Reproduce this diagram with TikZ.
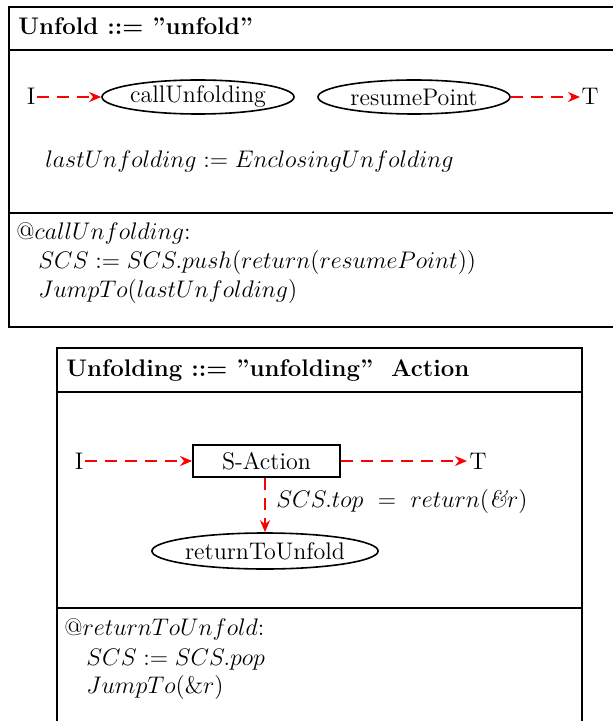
\documentclass[tikz,border=0pt,12pt]{standalone}
\usetikzlibrary{arrows.meta,shapes.geometric}
\tikzset{
  frame/.style={line width=1pt},
  flow/.style={red, line width=1pt, dash pattern=on 6pt off 4pt,
    -{Stealth[length=6pt,width=5pt]}},
  state/.style={ellipse, draw, line width=0.8pt, inner sep=0pt},
  actbox/.style={rectangle, draw, line width=0.9pt, inner sep=0pt},
  txt/.style={anchor=base west, inner sep=0pt},
  term/.style={inner sep=0pt, anchor=base},
}
\begin{document}
\begin{tikzpicture}[x=0.5pt,y=-0.5pt]
\useasboundingbox (0,0) rectangle (613,721);
\clip (0,0) rectangle (613,721);

% ---- Unfold ----
\draw[frame] (630,7) -| (9,327) -- (630,327);
\draw[frame] (9,50) -- (630,50);
\draw[frame] (9,213) -- (630,213);
\node[txt] (unfoldTitle) at (18,35) {\bfseries Unfold ::= ''unfold''};

\node[term] (i1) at (31,105) {I};
\node[state, minimum width=91pt, minimum height=17pt] (callU) at (198,97) {callUnfolding};
\node[state, minimum width=96pt, minimum height=17pt] (resume) at (414,97) {resumePoint};
\node[term] (t1) at (590,105) {T};
\coordinate (i1e) at (37,97);
\coordinate (t1w) at (580,97);
\draw[flow] (i1e) -- (callU.west);
\draw[flow] (resume.east) -- (t1w);

\node[txt] (lastU) at (45,168) {$lastUnfolding := EnclosingUnfolding$};

\node[txt] (atCall) at (16,240) {$@callUnfolding{:}$};
\node[txt] (push) at (38,269) {$SCS := SCS.push(return(resumePoint))$};
\node[txt] (jump1) at (38,298) {$JumpTo(lastUnfolding)$};

% ---- Unfolding ----
\draw[frame] (57,740) |- (582,348) -- (582,740);
\draw[frame] (57,392) -- (582,392);
\draw[frame] (57,608) -- (582,608);
\node[txt] (unfoldingTitle) at (66,376) {\bfseries Unfolding ::= ''unfolding''~\ Action};

\node[term] (i2) at (79,469) {I};
\node[actbox, minimum width=73.5pt, minimum height=16pt] (sact) at (266.5,461) {S-Action};
\node[term] (t2) at (478,469) {T};
\coordinate (i2e) at (85,461);
\coordinate (t2w) at (467,461);
\draw[flow] (i2e) -- (sact.west);
\draw[flow] (sact.east) -- (t2w);

\node[state, minimum width=111.5pt, minimum height=18pt] (retU) at (265,551) {returnToUnfold};
\draw[flow] (sact.south -| retU.north) -- (retU.north);
\node[txt] (topLbl) at (276,507) {$SCS.top\ =\ return(\mbox{\itshape\&}r)$};

\node[txt] (atRet) at (64,635) {$@returnToUnfold{:}$};
\node[txt] (pop) at (86,665) {$SCS := SCS.pop$};
\node[txt] (jump2) at (86,693) {$JumpTo(\mbox{\&}r)$};
\end{tikzpicture}
\end{document}
